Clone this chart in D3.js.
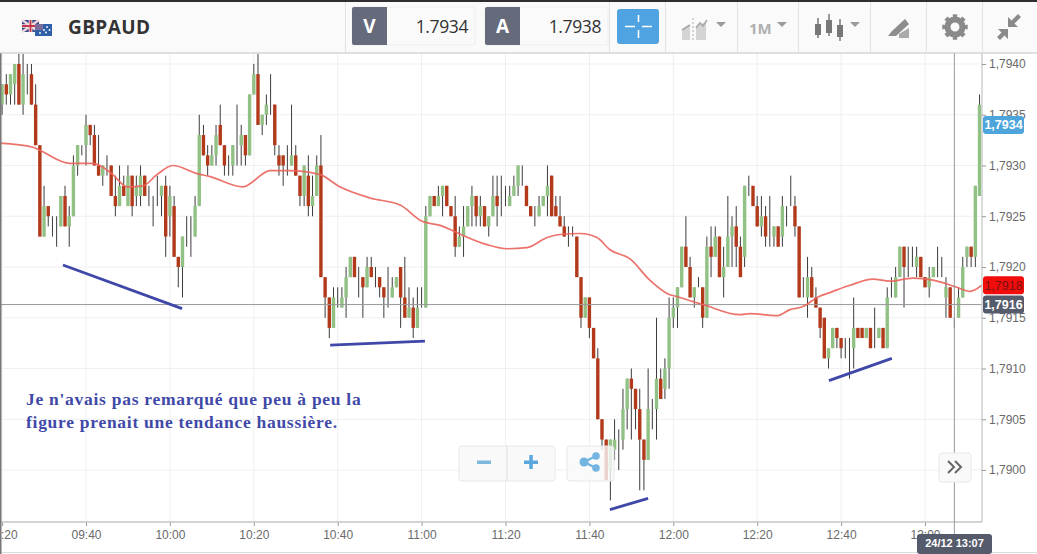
<!DOCTYPE html>
<html><head><meta charset="utf-8">
<script src="https://cdn.jsdelivr.net/npm/d3@7"></script>
<style>html,body{margin:0;padding:0;background:#fff;overflow:hidden}svg{display:block}</style>
</head><body><svg id="c" width="1037" height="554"></svg>
<script>
// Candle minutes start at 09:20 (minutes after midnight), one candle a minute.
const firstMinute = 560;
// Prices as pips above the base price.
const basePrice = 1.79;
const opens = [
36,38,37,38,40,36,39,39,36,32,
23,26,24,24,24,27,24,25,30,31,
32,34,33,30,29,30,30,27,26,28,
26,29,27,27,29,27,27,27,27,28,
25,26,21,20,23,23,23,26,33,31,
30,31,34,32,30,30,32,32,33,31,
37,39,34,35,36,36,31,31,30,30,
31,29,27,29,26,27,30,19,17,14,
17,16,17,19,21,20,19,18,20,19,
19,18,17,17,18,20,17,15,16,14,
16,16,25,27,26,27,28,26,25,22,
23,24,26,27,25,26,24,25,27,26,
26,26,27,28,28,28,26,25,25,26,
27,29,26,25,24,23,23,23,19,15,
17,14,11,5,3,0,2,3,3,6,
9,8,6,3,1,6,6,9,8,10,
15,16,18,22,20,17,18,18,15,22,
21,23,19,20,23,24,22,21,28,28,
26,24,25,23,23,24,23,26,26,26,
24,18,17,19,17,16,15,11,12,14,
13,13,12,12,14,14,13,14,14,13,
14,12,17,17,19,22,20,21,20,21,
19,18,19,20,19,17,18,15,15,17,
21,22,21,27];
const closes = [
38,37,39,40,36,39,39,36,32,23,
26,25,24,24,27,24,25,30,32,31,
34,33,30,29,30,30,27,26,28,27,
29,26,28,29,27,27,27,27,28,23,
27,21,20,23,23,23,26,33,31,30,
31,33,32,30,30,32,32,33,31,37,
39,34,35,36,36,32,30,30,30,31,
29,27,30,26,27,30,19,17,14,17,
17,17,19,21,19,20,18,20,19,19,
18,17,17,18,19,17,15,16,14,16,
16,25,27,26,27,28,26,25,22,23,
24,26,27,25,26,24,25,27,26,26,
26,27,28,30,28,26,25,25,26,27,
28,25,25,24,23,23,23,19,15,17,
14,11,5,3,-1,3,3,3,6,9,
8,6,3,1,6,6,9,7,10,15,
16,18,22,20,17,18,18,15,22,21,
23,19,20,23,24,22,19,28,28,26,
24,25,23,23,24,22,26,26,26,24,
17,18,19,17,16,14,11,12,14,13,
12,13,12,14,13,13,14,12,14,14,
12,17,17,19,22,20,20,21,21,19,
18,19,20,20,19,18,15,15,17,20,
22,21,28,36];
const highs = [
38,39,39,40,41,41,40,40,38,32,
28,26,25,25,27,28,26,31,32,32,
35,34,34,33,30,31,30,29,30,29,
30,29,29,30,29,28,27,29,28,29,
28,27,21,23,25,25,27,35,34,32,
32,34,36,32,31,32,36,34,33,37,
40,41,35,37,39,36,32,31,32,36,
32,29,30,31,29,31,33,19,17,18,
18,18,20,21,21,20,19,21,21,20,
19,18,20,19,19,20,21,18,17,18,
18,26,27,27,28,28,28,26,27,24,
26,26,28,27,27,26,25,29,29,29,
28,28,29,30,30,28,26,26,27,27,
30,29,27,27,25,24,24,23,19,17,
17,14,12,5,3,3,5,4,8,9,
10,8,8,3,10,7,15,10,11,17,
17,18,22,25,21,18,19,18,23,24,
24,23,22,27,25,26,23,28,29,28,
27,27,26,27,24,24,27,26,29,27,
24,19,21,20,18,16,15,12,14,14,
13,13,13,17,14,14,14,14,16,14,
14,18,19,20,22,22,22,22,22,21,
19,20,20,22,21,19,18,15,18,21,
22,22,28,37];
const lows = [
35,36,36,36,36,35,37,36,32,23,
23,24,23,22,24,24,22,25,29,31,
30,32,30,29,28,29,27,25,26,27,
26,25,26,26,27,26,24,26,25,21,
23,21,18,17,22,21,23,26,31,29,
30,30,32,29,29,29,30,30,30,31,
37,34,33,34,35,31,29,28,29,30,
29,26,26,25,25,27,19,15,13,14,
16,16,15,19,19,17,15,18,19,18,
17,15,16,17,18,14,15,15,13,14,
16,16,25,26,26,25,26,25,21,22,
21,24,24,24,24,24,23,25,24,25,
26,26,27,27,28,26,25,24,25,26,
25,25,25,24,23,22,23,19,14,15,
13,11,5,2,-1,-3,1,0,2,4,
3,4,-2,-2,1,4,3,7,7,8,
14,14,18,20,17,16,18,14,15,19,
21,19,17,20,20,20,19,20,27,26,
24,23,22,22,22,22,22,24,26,23,
17,17,15,17,16,13,11,10,12,12,
11,11,9,10,13,13,13,12,12,13,
12,12,17,17,19,16,19,20,19,19,
18,17,19,19,19,15,15,14,15,17,
20,20,20,27];
// Moving average: minute after 09:40, pips
const maMinutes = [-20.5,-12.6,-11,-3.8,1.7,3.3,6.4,9.8,13.6,16.9,20.7,26.5,29.6,37.4,43.9,48.6,55.8,60.5,67.7,74.9,80.1,84.4,89.9,95.6,100.4,105.1,109.9,113,117.8,121.8,124.9,129.7,134.4,138.5,141.6,147.1,155.9,158.3,164.7,167.8,170.9,174.3,178.1,182.1,187.6,191.7,197.1,201.9,207.6,210.7,213.6];
const maPips = [32.2,31.8,31.5,30.2,30.2,30.0,29.1,27.9,28.0,29.1,30.0,29.2,28.9,27.9,29.5,29.5,29.1,27.9,26.8,26.1,24.5,24.1,23.1,22.2,21.8,21.9,22.9,23.2,23.3,22.9,21.7,20.8,18.7,17.4,17.0,16.3,15.3,15.4,15.2,15.8,16.1,17.0,17.6,18.2,18.8,18.6,18.9,18.7,18.0,17.6,18.2];
// Hand-drawn trend strokes: [minute after 09:40, pips] pairs
const trendStrokes = [
 [[-5.5,20.2],[22.9,15.9]],
 [[58.2,12.3],[80.8,12.7]],
 [[124.9,-3.9],[134,-2.8]],
 [[177.1,8.8],[192.1,11.0]]];
const timeTicks = [560,580,600,620,640,660,680,700,720,740,760,780];
const priceTicks = [1.79,1.7905,1.791,1.7915,1.792,1.7925,1.793,1.7935,1.794];
const noteLines = ["Je n'avais pas remarqué que peu à peu la","figure prenait une tendance haussière."];
const crossMinute = 787, crossPrice = 1.79163;
const tags = [["1,7934",1.7934,"#4ea5dc","#fff"],["1,7918",1.79182,"#f20d0d","#7a1010"],["1,7916",1.79163,"#565b6b","#fff"]];

const svg = d3.select("#c");
const W=1037,H=554,plotR=982,plotT=53,plotB=522;
const minuteAt = m=>580+m;
const x = d3.scaleLinear().domain([580,800]).range([86,86+220*4.195]);
const y = d3.scaleLinear().domain([1.79,1.794]).range([470,64]);
const py = p=>y(basePrice+p/10000);
const fmtT = t=>d3.format("02")(Math.floor(t/60))+":"+d3.format("02")(t%60);
const fmtP = p=>d3.format(".4f")(p).replace(".",",");

svg.append("rect").attr("width",W).attr("height",H).attr("fill","#fff");
svg.append("defs").append("clipPath").attr("id","plot").append("rect").attr("x",0).attr("y",plotT).attr("width",plotR).attr("height",plotB-plotT);
const plot = svg.append("g").attr("clip-path","url(#plot)");
// grid
plot.selectAll(".gx").data(timeTicks).join("line").attr("x1",d=>x(d)).attr("x2",d=>x(d)).attr("y1",plotT).attr("y2",plotB).attr("stroke","#efefef");
plot.selectAll(".gy").data(priceTicks).join("line").attr("x1",0).attr("x2",plotR).attr("y1",d=>y(d)).attr("y2",d=>y(d)).attr("stroke","#efefef");
// candles
const candles = opens.map((o,i)=>({t:firstMinute+i,o,c:closes[i],h:highs[i],l:lows[i]}));
plot.selectAll(".w").data(candles).join("line").attr("x1",d=>x(d.t)).attr("x2",d=>x(d.t)).attr("y1",d=>py(d.h)).attr("y2",d=>py(d.l)).attr("stroke","#3c3c3c").attr("stroke-width",1);
plot.selectAll(".b").data(candles.filter(d=>d.o!==d.c)).join("rect").attr("x",d=>x(d.t)-1.7).attr("width",3.4)
 .attr("y",d=>py(Math.max(d.o,d.c))).attr("height",d=>Math.abs(py(d.o)-py(d.c)))
 .attr("fill",d=>d.c>d.o?"#92c186":"#b23a1b");
// crosshair
plot.append("line").attr("x1",0).attr("x2",plotR).attr("y1",y(crossPrice)).attr("y2",y(crossPrice)).attr("stroke","#999");
// moving average
plot.append("path").attr("d",d3.line().x((d,i)=>x(minuteAt(d))).y((d,i)=>py(maPips[i])).curve(d3.curveMonotoneX)(maMinutes)).attr("fill","none").attr("stroke","#e9645c").attr("stroke-width",1.7).attr("opacity",.9);
// strokes
svg.selectAll(".tr").data(trendStrokes).join("line").attr("x1",d=>x(minuteAt(d[0][0]))).attr("y1",d=>py(d[0][1])).attr("x2",d=>x(minuteAt(d[1][0]))).attr("y2",d=>py(d[1][1])).attr("stroke","#3f48a8").attr("stroke-width",2.8);
// note
svg.selectAll(".n").data(noteLines).join("text").attr("x",26).attr("y",(d,i)=>405+i*23).text(d=>d)
 .attr("font-family","Liberation Serif").attr("font-weight","bold").attr("font-size",17.5).attr("letter-spacing",.72).attr("fill","#4049a8");
// axes
const gx = svg.append("g").attr("transform",`translate(0,${plotB})`).call(d3.axisBottom(x).tickValues(timeTicks).tickFormat(fmtT).tickSize(4).tickPadding(4));
gx.select(".domain").remove();
gx.selectAll("line").attr("stroke","#999");
gx.selectAll("text").attr("font-family","Liberation Sans").attr("font-size",12).attr("fill","#6a6a6a");
svg.append("line").attr("x1",0).attr("x2",plotR).attr("y1",plotB).attr("y2",plotB).attr("stroke","#c4c4c4").attr("stroke-width",1.5);
svg.append("line").attr("x1",plotR).attr("x2",plotR).attr("y1",plotT).attr("y2",plotB).attr("stroke","#c4c4c4").attr("stroke-width",1.2);
const gy = svg.append("g").attr("transform",`translate(${plotR},0)`).call(d3.axisRight(y).tickValues(priceTicks).tickFormat(fmtP).tickSize(4).tickPadding(3));
gy.select(".domain").remove();
gy.selectAll("line").attr("stroke","#999");
gy.selectAll("text").attr("font-family","Liberation Sans").attr("font-size",12).attr("fill","#6a6a6a");
// vertical crosshair
svg.append("line").attr("x1",x(crossMinute)).attr("x2",x(crossMinute)).attr("y1",plotT).attr("y2",535).attr("stroke","#999");
// price tags
tags.forEach(([t,p,bg,fg])=>{
 svg.append("rect").attr("x",plotR+1).attr("y",y(p)-9).attr("width",41).attr("height",18).attr("rx",3).attr("fill",bg);
 svg.append("text").attr("x",plotR+21.5).attr("y",y(p)+4.5).attr("text-anchor","middle").text(t).attr("font-family","Liberation Sans").attr("font-size",12.5).attr("font-weight",fg=="#fff"?"bold":"normal").attr("fill",fg);
});
// footer
svg.append("line").attr("x1",0).attr("x2",W).attr("y1",552.5).attr("y2",552.5).attr("stroke","#ddd");
svg.append("rect").attr("x",917).attr("y",534).attr("width",75).attr("height",20).attr("rx",3).attr("fill","#565b6b");
svg.append("text").attr("x",954.5).attr("y",547).attr("text-anchor","middle").text("24/12 13:07").attr("font-family","Liberation Sans").attr("font-weight","bold").attr("font-size",11).attr("fill","#fff");
// left edge
svg.append("rect").attr("width",1.5).attr("height",H).attr("fill","#777");
// overlay buttons
const btn=(bx,by,w,h,a)=>svg.append("rect").attr("x",bx).attr("y",by).attr("width",w).attr("height",h).attr("rx",3).attr("fill","#f9f9f9").attr("fill-opacity",a).attr("stroke","#e8e8e8");
btn(459,446,96,35,1);
svg.append("line").attr("x1",507).attr("x2",507).attr("y1",446).attr("y2",481).attr("stroke","#ddd");
btn(567,446,47,35,.8);
btn(939,453,32,29,1);
svg.append("rect").attr("x",477).attr("y",460.5).attr("width",14).attr("height",3.5).attr("fill","#7fb8de");
svg.append("rect").attr("x",524).attr("y",460.5).attr("width",14).attr("height",3.5).attr("fill","#5aa7dc");
svg.append("rect").attr("x",529.3).attr("y",455).attr("width",3.5).attr("height",14).attr("fill","#5aa7dc");
const sh=svg.append("g").attr("fill","#74b4e0");
sh.append("path").attr("d","M596 456L584 462L596 468").attr("fill","none").attr("stroke","#74b4e0").attr("stroke-width",2.5);
[[596,456],[584,462],[596,468]].forEach(([a,b],i)=>sh.append("circle").attr("cx",a).attr("cy",b).attr("r",i==1?4.5:3.8));
svg.append("path").attr("d","M948 461L954 467L948 473M955 461L961 467L955 473").attr("fill","none").attr("stroke","#666").attr("stroke-width",2);

// header
svg.append("rect").attr("width",W).attr("height",53).attr("fill","#fafafa");
svg.append("rect").attr("width",W).attr("height",2).attr("fill","#2e2e2e");
svg.append("line").attr("x1",0).attr("x2",W).attr("y1",53).attr("y2",53).attr("stroke","#c2c2c2").attr("stroke-width",1.2);
[345,609,665,737,798,870,926,982].forEach(v=>svg.append("line").attr("x1",v+.5).attr("x2",v+.5).attr("y1",2).attr("y2",53).attr("stroke","#e2e2e2"));
// flags
svg.append("rect").attr("x",22).attr("y",20).attr("width",17).attr("height",12).attr("fill","#3b4a8c");
svg.append("path").attr("d","M22 20L39 32M39 20L22 32").attr("stroke","#f0d8d8").attr("stroke-width",2.4);
svg.append("path").attr("d","M30.5 20V32M22 26H39").attr("stroke","#f3e6e6").attr("stroke-width",3.6);
svg.append("path").attr("d","M30.5 20V32M22 26H39").attr("stroke","#c2354a").attr("stroke-width",1.8);
svg.append("rect").attr("x",35).attr("y",24).attr("width",17).attr("height",12).attr("fill","#2f5fa8");
svg.append("path").attr("d","M35 24h8v6h-8z").attr("fill","#7a6d9a");
[[47,27],[49.5,30],[46,32.5],[44,30],[40,33]].forEach(([a,b])=>svg.append("circle").attr("cx",a).attr("cy",b).attr("r",.9).attr("fill","#fff"));
svg.append("text").attr("x",68).attr("y",33.5).text("GBPAUD").attr("font-family","Open Sans").attr("font-weight","bold").attr("font-size",19).attr("letter-spacing",.4).attr("fill","#333");
const quote=(bx,w,label,val)=>{
 svg.append("rect").attr("x",bx).attr("y",7).attr("width",w).attr("height",38).attr("rx",2).attr("fill","#fafafa").attr("stroke","#eee");
 svg.append("path").attr("d",`M${bx+2} 7H${bx+35}V45H${bx+2}a2 2 0 0 1-2-2V9a2 2 0 0 1 2-2z`).attr("fill","#666b7b");
 svg.append("text").attr("x",bx+17.5).attr("y",33).attr("text-anchor","middle").text(label).attr("font-family","Open Sans").attr("font-weight","bold").attr("font-size",19).attr("fill","#fff");
 svg.append("text").attr("x",bx+w-7).attr("y",33).attr("text-anchor","end").text(val).attr("font-family","Open Sans").attr("font-size",17.5).attr("letter-spacing",-.4).attr("fill","#333");
};
quote(352,123,"V","1.7934");
quote(485,123,"A","1.7938");
svg.append("rect").attr("x",617).attr("y",9).attr("width",42).attr("height",35).attr("rx",3).attr("fill","#4fa3e0");
svg.append("path").attr("d","M625 26.5H635M642 26.5H652M638.5 15V22M638.5 30V38").attr("stroke","#fff").attr("stroke-width",1.6);
svg.append("path").attr("d","M682 40V30L690 25V40ZM696 40V26L706 22V40Z").attr("fill","#d4d4d4");
svg.append("path").attr("d","M682 30L690 25M696 28L700 23L703 26L707 20").attr("stroke","#a8a8a8").attr("stroke-width",1.6).attr("fill","none");
svg.append("path").attr("d","M693 18V42").attr("stroke","#aaa").attr("stroke-dasharray","2 2");
const caret=a=>svg.append("path").attr("d",`M${a} 22h10l-5 5z`).attr("fill","#999");
caret(716);caret(777);caret(850);
svg.append("text").attr("x",749).attr("y",33.5).text("1M").attr("font-family","Open Sans").attr("font-weight","bold").attr("font-size",15).attr("fill","#b0b0b0");
[[818,18,38,24,35],[829,14,36,20,33],[840,19,41,25,37]].forEach(([a,t,b,bt,bb])=>{
 svg.append("line").attr("x1",a).attr("x2",a).attr("y1",t).attr("y2",b).attr("stroke","#777").attr("stroke-width",1.5);
 svg.append("rect").attr("x",a-3).attr("y",bt).attr("width",6).attr("height",bb-bt).attr("fill","#777");
});
svg.append("path").attr("d","M888 36L892 31L905 19L909 24L896 36Z").attr("fill","#8d8d8d");
svg.append("path").attr("d","M899 38V34L909 28V38Z").attr("fill","#aaa");
// gear: a ring with eight teeth
svg.append("circle").attr("cx",955).attr("cy",27).attr("r",7.5).attr("fill","none").attr("stroke","#8a8a8a").attr("stroke-width",6);
svg.append("circle").attr("cx",955).attr("cy",27).attr("r",11).attr("fill","none").attr("stroke","#8a8a8a").attr("stroke-width",3.5).attr("pathLength",16).attr("stroke-dasharray","1 1").attr("stroke-dashoffset",.5);
svg.append("path").attr("d","M1008 27V17L1011.5 20.5L1018 14L1021 17L1014.5 23.5L1018 27Z").attr("fill","#8a8a8a");
svg.append("path").attr("d","M998 29H1008V39L1004.5 35.5L1000 40L997 37L1001.5 32.5Z").attr("fill","#8a8a8a");
</script></body></html>
